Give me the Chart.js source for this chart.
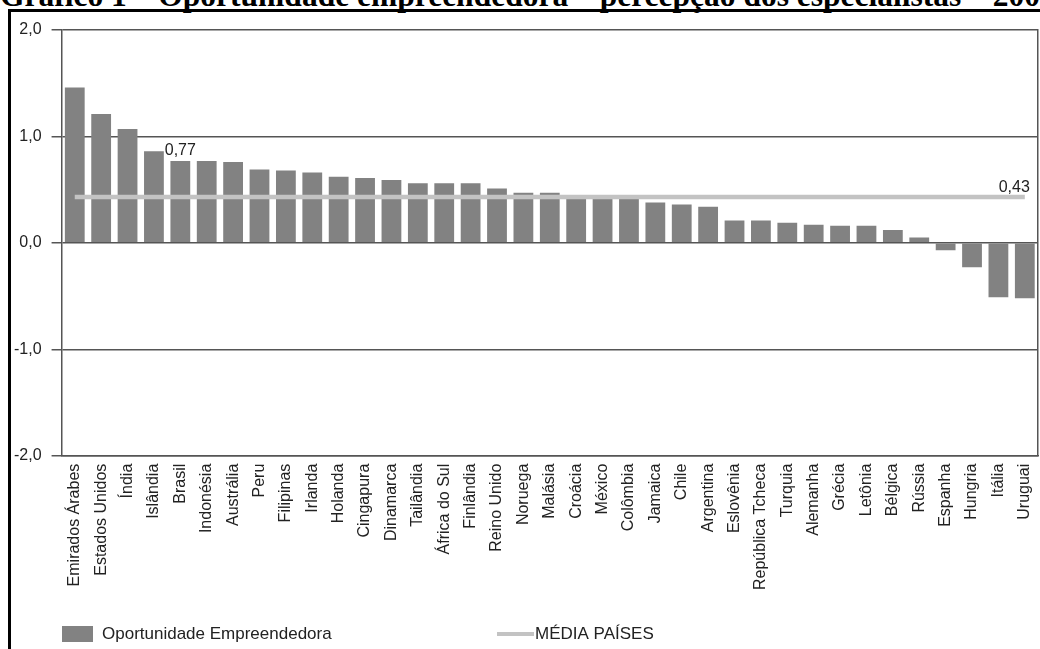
<!DOCTYPE html>
<html lang="pt-BR">
<head>
<meta charset="utf-8">
<title>Oportunidade empreendedora</title>
<script src="https://cdn.jsdelivr.net/npm/chart.js@4.4.1/dist/chart.umd.min.js"></script>
<style>
  html, body { margin: 0; padding: 0; background: #fff; overflow: hidden; }
  #wrap { position: relative; width: 1040px; height: 649px; overflow: hidden; }
  #titulo {
    position: absolute; left: 0; top: -20px;
    font: bold 31.5px 'Liberation Serif', 'Times New Roman', serif;
    line-height: 32px; white-space: nowrap; color: #000;
  }
  #moldura {
    position: absolute; left: 8px; top: 9px;
    width: 1100px; height: 700px; border: 3px solid #000;
  }
  #grafico { position: absolute; left: 0; top: 0; }
</style>
</head>
<body>
<div id="wrap">
  <div id="titulo">Gráfico 1 – Oportunidade empreendedora – percepção dos especialistas – 2008</div>
  <div id="moldura"></div>
  <canvas id="grafico" width="1040" height="649"></canvas>
</div>
<script>
// dados
const paises = [
    'Emirados Árabes', 'Estados Unidos', 'Índia', 'Islândia', 'Brasil', 'Indonésia',
    'Austrália', 'Peru', 'Filipinas', 'Irlanda', 'Holanda', 'Cingapura', 'Dinamarca',
    'Tailândia', 'África do Sul', 'Finlândia', 'Reino Unido', 'Noruega', 'Malásia',
    'Croácia', 'México', 'Colômbia', 'Jamaica', 'Chile', 'Argentina', 'Eslovênia',
    'República Tcheca', 'Turquia', 'Alemanha', 'Grécia', 'Letônia', 'Bélgica', 'Rússia',
    'Espanha', 'Hungria', 'Itália', 'Uruguai'
];

const oportunidade = [
    1.46, 1.21, 1.07, 0.86, 0.77, 0.77,
    0.76, 0.69, 0.68, 0.66, 0.62, 0.61, 0.59,
    0.56, 0.56, 0.56, 0.51, 0.47, 0.47,
    0.44, 0.44, 0.44, 0.38, 0.36, 0.34, 0.21,
    0.21, 0.19, 0.17, 0.16, 0.16, 0.12, 0.05,
    -0.07, -0.23, -0.51, -0.52
];

const mediaPaises = [
    0.43, 0.43, 0.43, 0.43, 0.43, 0.43, 0.43, 0.43, 0.43, 0.43,
    0.43, 0.43, 0.43, 0.43, 0.43, 0.43, 0.43, 0.43, 0.43, 0.43,
    0.43, 0.43, 0.43, 0.43, 0.43, 0.43, 0.43, 0.43, 0.43, 0.43,
    0.43, 0.43, 0.43, 0.43, 0.43, 0.43, 0.43
];

const yTicks = [-2, -1, 0, 1, 2];
const paisDestaque = 'Brasil';

function formataBR(v, casas) {
    return v.toFixed(casas).replace('.', ',');
}

const FONTE = "'Liberation Sans', Arial, sans-serif";
const COR_TEXTO = '#222';

// rótulos 0,77 (Brasil) e 0,43 (fim da linha da média)
const rotulosPlugin = {
    id: 'rotulos',
    afterDatasetsDraw(chart) {
        const ctx = chart.ctx;
        ctx.save();
        ctx.font = '16px ' + FONTE;
        ctx.fillStyle = COR_TEXTO;
        ctx.textBaseline = 'alphabetic';

        const i = paises.indexOf(paisDestaque);
        const barra = chart.getDatasetMeta(1).data[i];
        ctx.textAlign = 'center';
        ctx.fillText(formataBR(oportunidade[i], 2), barra.x, barra.y - 6);

        const pts = chart.getDatasetMeta(0).data;
        const ult = pts[pts.length - 1];
        ctx.textAlign = 'right';
        ctx.fillText(formataBR(mediaPaises[mediaPaises.length - 1], 2), ult.x + 5, ult.y - 5);
        ctx.restore();
    }
};

// legenda desenhada embaixo, como no original
const legendaPlugin = {
    id: 'legendaBaixo',
    afterDraw(chart) {
        const ctx = chart.ctx;
        const ds = chart.data.datasets;
        const y = 634;
        ctx.save();
        ctx.font = '17px ' + FONTE;
        ctx.textBaseline = 'middle';
        ctx.textAlign = 'left';

        // barra
        ctx.fillStyle = ds[1].backgroundColor;
        ctx.fillRect(62, y - 8, 31, 16);
        ctx.fillStyle = COR_TEXTO;
        ctx.fillText(ds[1].label, 102, y);

        // linha
        ctx.strokeStyle = ds[0].borderColor;
        ctx.lineWidth = 4;
        ctx.beginPath();
        ctx.moveTo(497, y);
        ctx.lineTo(534, y);
        ctx.stroke();
        ctx.fillText(ds[0].label, 535, y);
        ctx.restore();
    }
};

new Chart(document.getElementById('grafico'), {
    type: 'bar',
    data: {
        labels: paises,
        datasets: [
            {
                type: 'line',
                label: 'MÉDIA PAÍSES',
                data: mediaPaises,
                borderColor: '#c3c3c3',
                borderWidth: 4.5,
                pointRadius: 0,
                fill: false,
                tension: 0
            },
            {
                type: 'bar',
                label: 'Oportunidade Empreendedora',
                data: oportunidade,
                backgroundColor: '#828282',
                barPercentage: 0.75,
                categoryPercentage: 1
            }
        ]
    },
    options: {
        responsive: false,
        animation: false,
        layout: { padding: { left: 4, right: 2, top: 30, bottom: 59 } },
        plugins: {
            legend: { display: false },
            tooltip: { enabled: false }
        },
        scales: {
            x: {
                grid: { display: false },
                border: { display: true, color: '#555', width: 1.5 },
                ticks: {
                    autoSkip: false,
                    minRotation: 90,
                    maxRotation: 90,
                    padding: 0,
                    color: COR_TEXTO,
                    font: { family: FONTE, size: 16 }
                },
                afterFit(axis) {
                    axis.paddingLeft = 0;
                    axis.paddingRight = 0;
                }
            },
            y: {
                min: -2,
                max: 2,
                afterBuildTicks(axis) {
                    axis.ticks = yTicks.map(v => ({ value: v }));
                },
                grid: { color: '#555', lineWidth: 1.5, tickLength: 10 },
                border: { color: '#555', width: 1.5 },
                ticks: {
                    padding: 10,
                    color: COR_TEXTO,
                    font: { family: FONTE, size: 16 },
                    callback: v => formataBR(v, 1)
                }
            },
            y2: {
                position: 'right',
                grid: { display: false },
                ticks: { display: false },
                border: { display: true, color: '#555', width: 1.5 },
                afterFit(axis) { axis.width = 0; }
            }
        }
    },
    plugins: [rotulosPlugin, legendaPlugin]
});
</script>
</body>
</html>
